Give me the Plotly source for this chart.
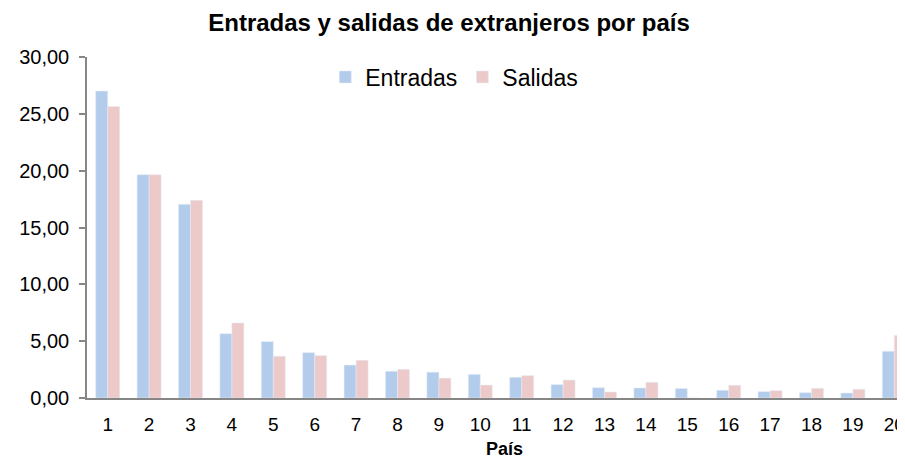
import plotly.graph_objects as go

# datos
paises = list(range(1, 21))
entradas = [27.00, 19.65, 17.04, 5.66, 4.96, 3.99, 2.90, 2.35, 2.27, 2.08,
            1.82, 1.18, 0.91, 0.88, 0.83, 0.68, 0.56, 0.47, 0.44, 4.11]
salidas = [25.65, 19.65, 17.39, 6.60, 3.67, 3.73, 3.32, 2.52, 1.75, 1.14,
           1.97, 1.58, 0.53, 1.38, 0.00, 1.12, 0.65, 0.85, 0.77, 5.51]
etiquetas = [str(p) for p in paises]

AZUL = '#B3CCEC'
ROSA = '#EDCACA'
EJE = '#868686'
FUENTE = 'Liberation Sans, Arial, sans-serif'

# la página tiene 8 px de margen en el body: la figura ocupa 897x452
W, H = 897, 452
IZQ, ARR, ABJ = 79, 49, 62
ancho_cat = 41.4
fin = 0.5 + (W - IZQ) / ancho_cat
alto_plot = H - ARR - ABJ

fig = go.Figure()
fig.add_trace(go.Bar(x=paises, y=entradas, name='Entradas', marker_color=AZUL))
fig.add_trace(go.Bar(x=paises, y=salidas, name='Salidas', marker_color=ROSA))

fig.update_layout(
    width=W, height=H,
    margin=dict(l=IZQ, r=0, t=ARR, b=ABJ, autoexpand=False),
    paper_bgcolor='white', plot_bgcolor='white',
    font=dict(family=FUENTE, color='black', size=20),
    separators=',.',
    barmode='group', bargap=0.42, bargroupgap=0,
    title=dict(text='<b>Entradas y salidas de extranjeros por país</b>',
               font=dict(size=24, color='black'),
               x=441 / W, xref='container', xanchor='center',
               y=1 - 15 / H, yref='container', yanchor='middle'),
    legend=dict(orientation='h', x=0.449, xanchor='center',
                y=(H - ABJ - 69) / alto_plot, yanchor='middle',
                font=dict(size=23), bgcolor='rgba(0,0,0,0)', itemwidth=30),
    showlegend=True,
)
fig.update_xaxes(range=[0.5, fin], tickvals=paises, ticktext=etiquetas,
                 showgrid=False, showline=True, linecolor=EJE, linewidth=1.5,
                 ticks='', tickfont=dict(size=19), ticklabelstandoff=8,
                 zeroline=False)
fig.update_yaxes(range=[0, 30], dtick=5, tickformat='.2f',
                 showgrid=False, showline=True, linecolor=EJE, linewidth=1.5,
                 ticks='outside', ticklen=6, tickcolor=EJE, tickwidth=1.5,
                 tickfont=dict(size=20), ticklabelstandoff=6, zeroline=False)
fig.add_annotation(text='<b>País</b>', xref='paper', yref='paper',
                   x=(496 - IZQ) / (W - IZQ), y=-(441 - (H - ABJ)) / alto_plot,
                   xanchor='center', yanchor='middle', showarrow=False,
                   font=dict(size=18, color='black'))

fig.write_html("out.html")
